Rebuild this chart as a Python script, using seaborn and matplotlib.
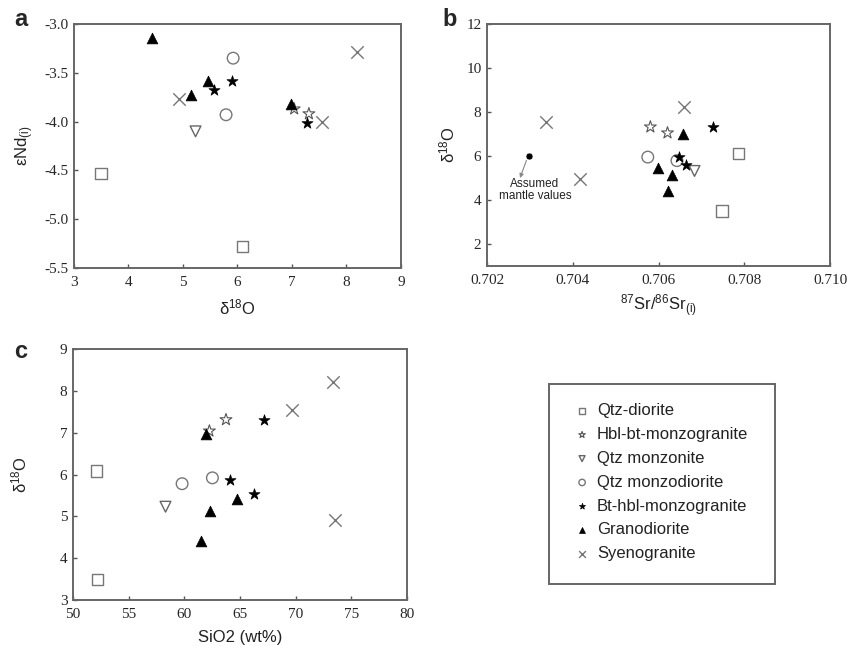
import numpy as np
import pandas as pd
import matplotlib
matplotlib.use("Agg")
import matplotlib.pyplot as plt
import seaborn as sns

sns.set_style("white")
plt.rcParams["font.family"] = ["Liberation Sans", "DejaVu Sans"]
plt.rcParams["mathtext.fontset"] = "custom"
plt.rcParams["mathtext.rm"] = "Liberation Sans"
plt.rcParams["mathtext.it"] = "Liberation Sans"

groups = ["Qtz-diorite", "Hbl-bt-monzogranite", "Qtz monzonite", "Qtz monzodiorite",
          "Bt-hbl-monzogranite", "Granodiorite", "Syenogranite"]

# Panel a: d18O vs eNd(i)
a_d18O = {
    "Qtz-diorite": [3.49, 6.09],
    "Hbl-bt-monzogranite": [7.04, 7.31],
    "Qtz monzonite": [5.23],
    "Qtz monzodiorite": [5.92, 5.79],
    "Bt-hbl-monzogranite": [5.89, 5.56, 7.28],
    "Granodiorite": [4.44, 5.45, 5.15, 6.99],
    "Syenogranite": [4.93, 7.55, 8.20],
}
a_eNd = {
    "Qtz-diorite": [-4.53, -5.28],
    "Hbl-bt-monzogranite": [-3.87, -3.92],
    "Qtz monzonite": [-4.10],
    "Qtz monzodiorite": [-3.35, -3.93],
    "Bt-hbl-monzogranite": [-3.58, -3.68, -4.01],
    "Granodiorite": [-3.14, -3.58, -3.73, -3.82],
    "Syenogranite": [-3.77, -4.00, -3.29],
}
# Panel b: 87Sr/86Sr(i) vs d18O
b_sr = {
    "Qtz-diorite": [0.70787, 0.70748],
    "Hbl-bt-monzogranite": [0.70581, 0.70621],
    "Qtz monzonite": [0.70684],
    "Qtz monzodiorite": [0.70575, 0.70643],
    "Bt-hbl-monzogranite": [0.70727, 0.70647, 0.70663],
    "Granodiorite": [0.70658, 0.70598, 0.70631, 0.70622],
    "Syenogranite": [0.70337, 0.70416, 0.70659],
}
b_d18O = {
    "Qtz-diorite": [6.11, 3.50],
    "Hbl-bt-monzogranite": [7.32, 7.05],
    "Qtz monzonite": [5.32],
    "Qtz monzodiorite": [5.95, 5.79],
    "Bt-hbl-monzogranite": [7.30, 5.94, 5.58],
    "Granodiorite": [6.98, 5.44, 5.15, 4.42],
    "Syenogranite": [7.56, 4.94, 8.24],
}
mantle_sr = [0.70297]
mantle_d18O = [5.98]
# Panel c: SiO2 vs d18O
c_sio2 = {
    "Qtz-diorite": [52.12, 52.21],
    "Hbl-bt-monzogranite": [62.25, 63.74],
    "Qtz monzonite": [58.31],
    "Qtz monzodiorite": [59.80, 62.52],
    "Bt-hbl-monzogranite": [64.10, 67.15, 66.22],
    "Granodiorite": [61.98, 64.70, 62.34, 61.50],
    "Syenogranite": [73.33, 69.66, 73.54],
}
c_d18O = {
    "Qtz-diorite": [6.09, 3.49],
    "Hbl-bt-monzogranite": [7.04, 7.31],
    "Qtz monzonite": [5.23],
    "Qtz monzodiorite": [5.78, 5.92],
    "Bt-hbl-monzogranite": [5.87, 7.30, 5.54],
    "Granodiorite": [6.96, 5.41, 5.12, 4.40],
    "Syenogranite": [8.21, 7.53, 4.91],
}

a_xticks = [3, 4, 5, 6, 7, 8, 9]
a_yticks = [-5.5, -5.0, -4.5, -4.0, -3.5, -3.0]
b_xticks = [0.702, 0.704, 0.706, 0.708, 0.710]
b_yticks = [2, 4, 6, 8, 10, 12]
c_xticks = [50, 55, 60, 65, 70, 75, 80]
c_yticks = [3, 4, 5, 6, 7, 8, 9]

styles = {
    "Qtz-diorite": dict(marker="s", facecolor="none", edgecolor="#777777", s=70, linewidth=1.0),
    "Hbl-bt-monzogranite": dict(marker="*", facecolor="none", edgecolor="#555555", s=80, linewidth=0.8),
    "Qtz monzonite": dict(marker="v", facecolor="none", edgecolor="#666666", s=60, linewidth=1.0),
    "Qtz monzodiorite": dict(marker="o", facecolor="none", edgecolor="#777777", s=70, linewidth=1.0),
    "Bt-hbl-monzogranite": dict(marker="*", facecolor="black", edgecolor="black", s=70, linewidth=0.5),
    "Granodiorite": dict(marker="^", facecolor="black", edgecolor="black", s=60, linewidth=0.5),
    "Syenogranite": dict(marker="x", color="#777777", s=80, linewidth=1.0),
}

def long_df(xd, yd):
    rows = []
    for g in groups:
        for x, y in zip(xd[g], yd[g]):
            rows.append((g, x, y))
    return pd.DataFrame(rows, columns=["group", "x", "y"])

fig = plt.figure(figsize=(8.57, 6.46), dpi=100)
W, H = 857, 646

def add_ax(l, t, r, b):
    return fig.add_axes([l / W, 1 - b / H, (r - l) / W, (b - t) / H])

ax_a = add_ax(74, 24, 401, 268)
ax_b = add_ax(487, 24, 830, 266)
ax_c = add_ax(73, 349, 407, 600)
ax_l = add_ax(549, 384, 775, 584)

def draw(ax, df):
    for g in groups:
        sub = df[df.group == g]
        sns.scatterplot(data=sub, x="x", y="y", ax=ax, label=g, zorder=3, **styles[g])

draw(ax_a, long_df(a_d18O, a_eNd))
draw(ax_b, long_df(b_sr, b_d18O))
draw(ax_c, long_df(c_sio2, c_d18O))
sns.scatterplot(x=mantle_sr, y=mantle_d18O, ax=ax_b, marker="o", color="black", s=25, zorder=3)

tickfont = dict(family="Liberation Serif", size=11)

def style_ax(ax, xt, yt, xlim, ylim, xfmt, yfmt):
    ax.set_xlim(*xlim)
    ax.set_ylim(*ylim)
    ax.set_xticks(xt)
    ax.set_yticks(yt)
    ax.set_xticklabels([xfmt.format(v) for v in xt], fontdict=tickfont)
    ax.set_yticklabels([yfmt.format(v) for v in yt], fontdict=tickfont)
    ax.tick_params(direction="in", length=3, width=1, color="#555555",
                   bottom=True, left=True, top=False, right=False)
    ax.tick_params(axis="x", pad=6)
    ax.tick_params(axis="y", pad=4)
    for sp in ax.spines.values():
        sp.set_color("#666666")
        sp.set_linewidth(1.4)
    if ax.get_legend() is not None:
        ax.get_legend().remove()

style_ax(ax_a, a_xticks, a_yticks, (3, 9), (-5.5, -3.0), "{:g}", "{:.1f}")
style_ax(ax_b, b_xticks, b_yticks, (0.702, 0.710), (1, 12), "{:.3f}", "{:g}")
style_ax(ax_c, c_xticks, c_yticks, (50, 80), (3, 9), "{:g}", "{:g}")

lab = dict(fontsize=12, color="#222222")
ax_a.set_xlabel("δ$^{18}$O", labelpad=6, **lab)
ax_a.set_ylabel("εNd$_{(i)}$", labelpad=6, **lab)
ax_b.set_xlabel("$^{87}$Sr/$^{86}$Sr$_{(i)}$", labelpad=4, **lab)
ax_b.set_ylabel("δ$^{18}$O", labelpad=6, **lab)
ax_c.set_xlabel("SiO2 (wt%)", labelpad=6, **lab)
ax_c.set_ylabel("δ$^{18}$O", labelpad=22, **lab)

fig.text(14 / W, 1 - 20 / H, "a", fontsize=17, fontweight="bold", va="center", ha="left")
fig.text(442 / W, 1 - 20 / H, "b", fontsize=17, fontweight="bold", va="center", ha="left")
fig.text(14 / W, 1 - 352 / H, "c", fontsize=17, fontweight="bold", va="center", ha="left")

ax_b.text(0.70312, 4.45, "Assumed\nmantle values", ha="center", va="center",
          fontsize=8.5, color="#222222", linespacing=1.05)
ax_b.annotate("", xy=(0.70277, 5.0), xytext=(0.70292, 5.8),
              arrowprops=dict(arrowstyle="-|>", color="#888888", lw=0.8,
                              mutation_scale=6, shrinkA=0, shrinkB=0))

# legend box
handles, labels = ax_c.get_legend_handles_labels()
ax_l.set_xticks([])
ax_l.set_yticks([])
for sp in ax_l.spines.values():
    sp.set_color("#666666")
    sp.set_linewidth(1.4)
leg = ax_l.legend(handles[:7], labels[:7], loc="upper left", bbox_to_anchor=(0.08, 0.945),
                  frameon=False, fontsize=12, labelspacing=0.53, handlelength=0.8,
                  handletextpad=0.5, markerscale=0.55, borderpad=0)
for t in leg.get_texts():
    t.set_color("#222222")

fig.savefig("out.png", dpi=100)
